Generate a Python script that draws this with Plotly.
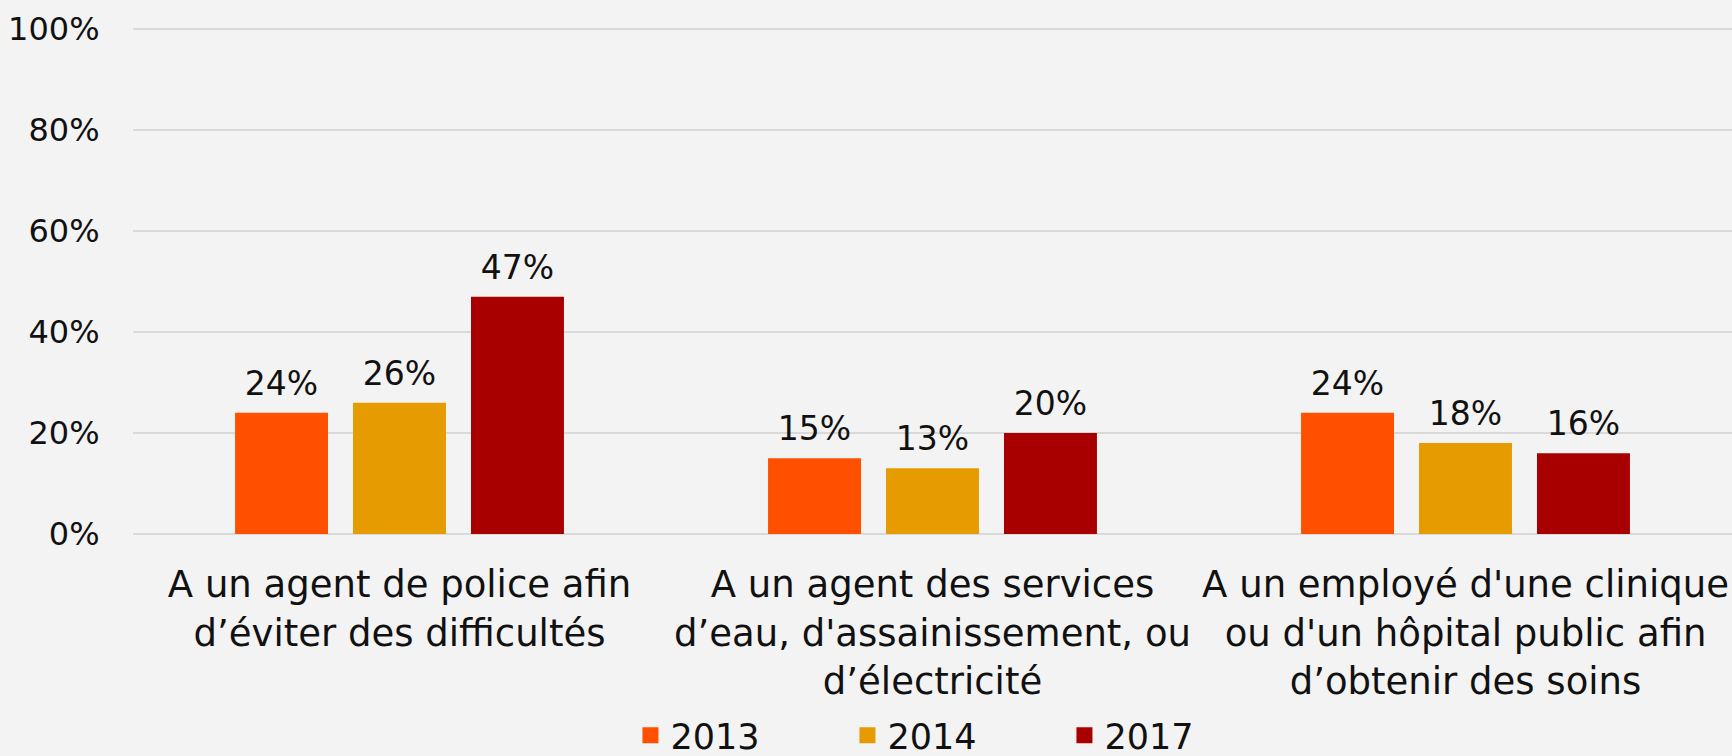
import plotly.graph_objects as go

categories = [
    "A un agent de police afin<br>d’éviter des difficultés",
    "A un agent des services<br>d’eau, d'assainissement, ou<br>d’électricité",
    "A un employé d'une clinique<br>ou d'un hôpital public afin<br>d’obtenir des soins",
]
years = ["2013", "2014", "2017"]
values_2013 = [24, 15, 24]
values_2014 = [26, 13, 18]
values_2017 = [47, 20, 16]
colors = ["#FF5000", "#E69C00", "#A80000"]
y_ticks = [0, 20, 40, 60, 80, 100]

FONT = "DejaVu Sans"
TXT = "#111111"
BARGAP = 0.336

fig = go.Figure()
series = [values_2013, values_2014, values_2017]
for name, vals, col in zip(years, series, colors):
    fig.add_trace(go.Bar(
        x=categories, y=vals, name=name, offsetgroup=name,
        marker=dict(color=col, line=dict(width=0)),
        showlegend=False, hoverinfo="skip",
    ))
# value labels, aligned with the bars via offsetgroup
for name, vals in zip(years, series):
    fig.add_trace(go.Scatter(
        x=categories, y=vals, offsetgroup=name, mode="markers+text",
        text=[f"{v}%" for v in vals], textposition="top center",
        textfont=dict(family=FONT, size=33, color=TXT),
        marker=dict(size=14, color="rgba(0,0,0,0)"),
        cliponaxis=False, showlegend=False, hoverinfo="skip",
    ))
# legend proxies with larger square swatches (on a hidden axis)
for name, col in zip(years, colors):
    fig.add_trace(go.Scatter(
        x=[None], y=[None], mode="markers", name=name, xaxis="x2",
        marker=dict(symbol="square", size=19, color=col),
        showlegend=True,
    ))

fig.update_layout(
    width=1732, height=756,
    margin=dict(l=133, r=0, t=27, b=222, autoexpand=False),
    paper_bgcolor="#f3f3f3", plot_bgcolor="rgba(0,0,0,0)",
    barmode="group", bargap=BARGAP, bargroupgap=0.212,
    scattermode="group", scattergap=BARGAP,
    font=dict(family=FONT, color=TXT),
    legend=dict(
        orientation="h", xref="container", yref="container",
        x=0.364, y=0.027, xanchor="left", yanchor="middle",
        font=dict(family=FONT, size=35, color=TXT),
        entrywidth=172, entrywidthmode="pixels",
        itemsizing="trace", bgcolor="rgba(0,0,0,0)",
    ),
    xaxis=dict(
        type="category", showgrid=False, zeroline=False, showline=False,
        ticks="outside", ticklen=18, tickcolor="rgba(0,0,0,0)",
        tickfont=dict(family=FONT, size=37, color=TXT), automargin=False,
    ),
    xaxis2=dict(overlaying="x", visible=False, range=[0, 1]),
    yaxis=dict(
        range=[0, 100.4], tickvals=y_ticks, ticktext=[f"{t}%" for t in y_ticks],
        showgrid=True, gridcolor="#d9d9d9", gridwidth=1.5,
        zeroline=True, zerolinecolor="#d9d9d9", zerolinewidth=1.5,
        showline=False, ticks="outside", ticklen=26, tickcolor="rgba(0,0,0,0)",
        tickfont=dict(family=FONT, size=32, color=TXT), automargin=False,
    ),
)

fig.write_html("out.html", config={"displayModeBar": False},
               post_script="document.body.style.margin='0';")
